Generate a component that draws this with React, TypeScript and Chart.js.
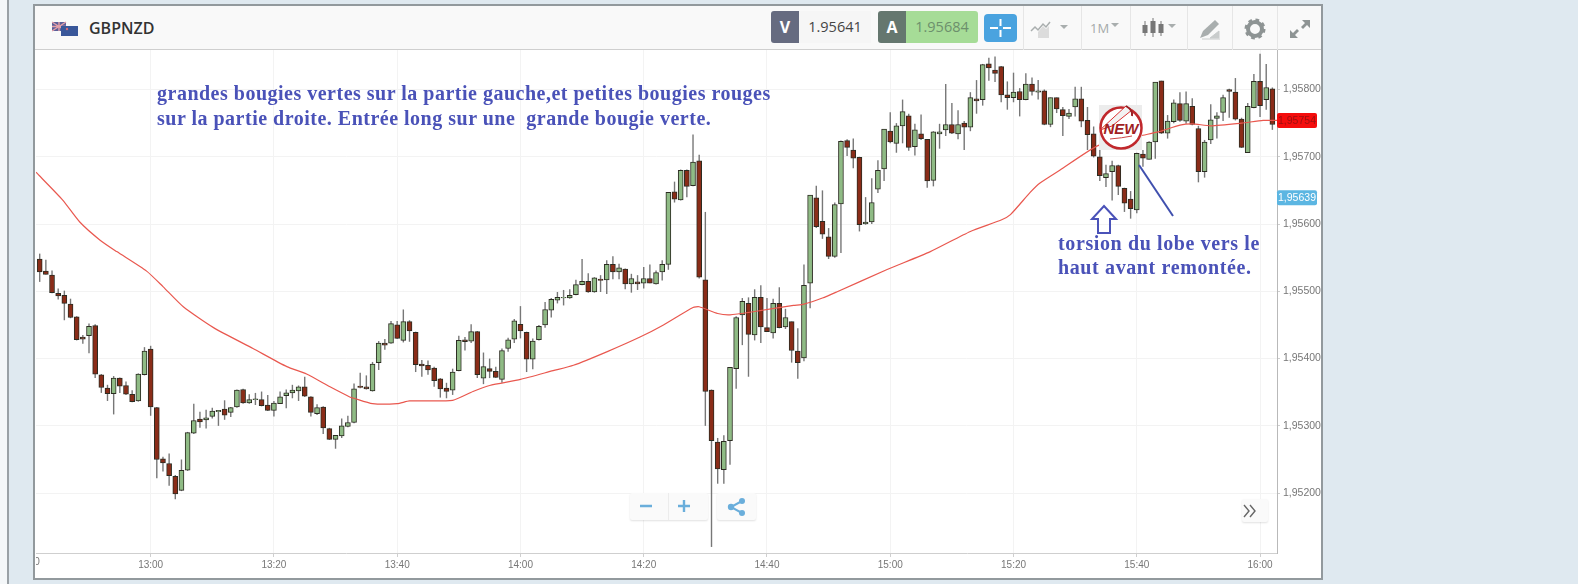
import React, { useEffect, useRef } from "react";
import { Chart, registerables } from "chart.js";

Chart.register(...registerables);

// Prices are written as points: 95800 reads 1,95800. Candles run one per minute; minute 0 is 13:00.
const firstMinute = -18;
const opens = [
95548,95530,95524,95497,95494,95481,95462,95432,95434,95449,95376,95356,95348,95371,95360,95347,95337,95376,
95414,95327,95251,95244,95225,95204,95234,95289,95310,95309,95314,95321,95325,95320,95328,95354,95334,95339,95339,95331,95323,95333,
95345,95349,95352,95358,95343,95318,95328,95296,95280,95285,95299,95305,
95359,95358,95352,95394,95423,95423,95450,95427,95455,95439,
95392,95390,95386,95370,95356,95353,95382,95428,95426,95440,
95371,95385,95381,95369,95415,95429,95451,95439,95399,95428,
95450,95472,95487,95490,95490,95495,95510,95515,95499,95518,
95517,95540,95529,95533,95511,95514,95512,95519,95511,95529,
95540,95648,95636,95680,95657,95694,95517,95353,95276,95235,
95278,95385,95465,95482,95435,95491,95446,95438,95482,95447,
95455,95411,95401,95512,95639,95604,95581,95552,95630,95724,
95710,95699,95600,95603,95652,95682,95738,95720,95746,95761,
95715,95734,95726,95665,95734,95740,95748,95734,95750,95744,
95786,95785,95838,95829,95834,95792,95788,95797,95785,95808,
95796,95798,95748,95788,95770,95760,95774,95786,95754,95734,
95700,95669,95678,95687,95653,95637,95621,95704,95696,95722,
95813,95735,95752,95779,95753,95775,95742,95678,95725,95757,
95766,95800,95796,95756,95706,95773,95812,95785,95801];
const highs = [
95556,95547,95531,95504,95501,95489,95463,95435,95452,95451,95377,95361,95374,95372,95366,95353,95378,95417,
95419,95328,95254,95259,95227,95250,95291,95333,95321,95324,95327,95323,95338,95328,95354,95355,95347,95349,95351,95346,95337,95351,
95354,95361,95360,95373,95344,95332,95329,95297,95286,95311,95315,95363,
95379,95375,95395,95426,95429,95456,95456,95473,95457,95440,
95398,95397,95388,95371,95364,95385,95434,95432,95451,95441,
95409,95400,95388,95415,95431,95459,95478,95440,95430,95450,
95484,95490,95499,95502,95503,95517,95548,95527,95521,95524,
95546,95552,95541,95534,95526,95524,95536,95540,95531,95546,
95647,95663,95681,95681,95733,95703,95618,95354,95282,95286,
95387,95463,95490,95491,95503,95509,95490,95489,95506,95474,
95455,95445,95540,95643,95657,95650,95594,95632,95724,95726,
95727,95700,95640,95668,95695,95741,95766,95750,95785,95764,
95749,95763,95726,95738,95749,95808,95780,95769,95753,95796,
95814,95838,95847,95849,95835,95812,95825,95802,95824,95818,
95814,95800,95788,95788,95774,95771,95804,95804,95774,95745,
95710,95688,95694,95688,95654,95649,95706,95710,95723,95811,
95813,95762,95785,95796,95797,95787,95746,95725,95778,95766,
95792,95801,95817,95758,95780,95823,95853,95838,95803];
const lows = [
95514,95525,95497,95488,95457,95460,95427,95422,95408,95371,95349,95337,95317,95349,95346,95335,95336,95375,
95315,95222,95232,95211,95191,95203,95233,95288,95297,95296,95311,95300,95309,95313,95327,95333,95333,95331,95329,95322,95314,95333,
95326,95341,95337,95343,95314,95316,95288,95279,95266,95282,95298,95304,
95356,95354,95351,95383,95413,95422,95429,95424,95425,95380,
95373,95376,95358,95342,95341,95346,95381,95412,95423,95371,
95362,95371,95371,95364,95410,95423,95430,95380,95384,95427,
95446,95461,95482,95479,95489,95494,95509,95498,95498,95499,
95496,95518,95518,95503,95498,95502,95504,95512,95510,95516,
95532,95632,95635,95640,95656,95519,95300,95120,95214,95214,
95242,95355,95420,95373,95427,95423,95440,95430,95445,95444,
95394,95370,95396,95475,95594,95578,95548,95550,95557,95701,
95683,95589,95599,95600,95646,95664,95720,95706,95720,95709,
95702,95725,95654,95656,95712,95731,95734,95726,95710,95738,
95764,95776,95813,95811,95781,95770,95781,95760,95784,95791,
95785,95747,95744,95765,95731,95756,95760,95744,95710,95699,
95664,95655,95635,95643,95618,95608,95616,95685,95696,95697,
95734,95727,95750,95752,95749,95747,95662,95669,95719,95727,
95753,95758,95754,95713,95706,95772,95759,95770,95740];
const closes = [
95529,95525,95498,95493,95482,95461,95428,95429,95448,95377,95357,95348,95371,95359,95347,95336,95377,95411,
95328,95250,95245,95226,95199,95234,95290,95308,95306,95312,95322,95323,95316,95327,95353,95334,95339,95340,95330,95323,95334,95343,
95349,95353,95358,95344,95320,95327,95297,95280,95286,95300,95305,95355,
95357,95355,95392,95423,95420,95452,95430,95455,95441,95391,
95389,95383,95367,95355,95351,95380,95427,95425,95440,95376,
95388,95381,95372,95412,95428,95456,95441,95399,95426,95448,
95473,95488,95491,95491,95494,95510,95515,95499,95520,95516,
95540,95529,95535,95511,95519,95511,95519,95512,95528,95540,
95647,95637,95680,95656,95692,95521,95351,95278,95236,95277,
95387,95461,95485,95436,95491,95447,95440,95482,95446,95461,
95412,95394,95509,95643,95596,95585,95552,95629,95723,95714,
95698,95599,95603,95632,95680,95741,95722,95746,95767,95714,
95740,95727,95664,95737,95737,95748,95735,95748,95744,95788,
95783,95837,95832,95824,95792,95788,95796,95785,95808,95797,
95798,95748,95788,95771,95761,95765,95786,95753,95733,95701,
95672,95675,95687,95656,95631,95623,95705,95698,95722,95811,
95735,95753,95780,95754,95779,95748,95678,95722,95755,95761,
95788,95797,95756,95714,95775,95812,95776,95803,95748];

// Red moving average, read at irregular minutes along its course
const maMinutes = [-18.6,-14.3,-11.5,-8.2,-5.5,-0.65,2,5.3,10.2,16.6,22.1,25.3,29.1,32.3,33,36,40,42,49,52.3,55,60,65.3,68.6,74,79.4,83.2,88,89,92,94,98,104.3,106,109,111.3,119.4,126.5,133,138,139.5,142.7,144.3,147.5,153.8,161,163.5,167,169,172,177,180.5,182.75];
const maValues = [95677,95636,95603,95576,95559,95530,95507,95477,95446,95415,95388,95377,95358,95343,95341,95333,95333,95337,95338,95351,95360,95369,95382,95390,95410,95432,95450,95476,95477,95467,95465,95470,95479,95481,95490,95499,95532,95559,95589,95606,95614,95647,95661,95680,95717,95732,95737,95747,95749,95746,95750,95754,95754];

const xTickMinutes = [0,20,40,60,80,100,120,140,160,180];
const xTickLabels = ["13:00","13:20","13:40","14:00","14:20","14:40","15:00","15:20","15:40","16:00"];
const clippedTick = { minute: -20, label: "12:40" };
const yTickValues = [95200,95300,95400,95500,95600,95700,95800];
const yTickLabels = ["1,95200","1,95300","1,95400","1,95500","1,95600","1,95700","1,95800"];
const lastPrice = { value: 95754, label: "1,95754" };
const bidPrice = { value: 95639, label: "1,95639" };

const GREEN = "#8fbb85";
const RED = "#8a2c18";
const BLUE = "#4a52b8";

const priceTags = {
  id: "priceTags",
  afterDraw(chart: any) {
    const { ctx, scales, chartArea } = chart;
    const y = scales.y;
    const x = scales.x;
    ctx.save();
    ctx.font = "10px 'Liberation Sans', Arial, sans-serif";
    ctx.beginPath();
    ctx.rect(chartArea.left, chartArea.bottom, chartArea.width, 26);
    ctx.clip();
    ctx.fillStyle = "#777";
    ctx.textAlign = "center";
    ctx.textBaseline = "middle";
    ctx.fillText(clippedTick.label, x.getPixelForValue(clippedTick.minute), chartArea.bottom + 9);
    ctx.restore();
    ctx.save();
    ctx.font = "10.5px 'Liberation Sans', Arial, sans-serif";
    ctx.textAlign = "center";
    ctx.textBaseline = "middle";
    const tag = (t: { value: number; label: string }, bg: string, fg: string) => {
      const py = y.getPixelForValue(t.value);
      ctx.fillStyle = bg;
      ctx.beginPath();
      ctx.roundRect(chartArea.right, py - 7.5, 40, 15, 2);
      ctx.fill();
      ctx.fillStyle = fg;
      ctx.fillText(t.label, chartArea.right + 20, py + 0.5);
    };
    tag(lastPrice, "#f40d0d", "#9c1010");
    tag(bidPrice, "#5cb6e2", "#ffffff");
    ctx.restore();
  },
};

const abs = (left: number, top: number, width: number, height: number, extra: any = {}) => ({
  position: "absolute" as const, left, top, width, height, ...extra,
});

function Note({ left, top, text, size, spacing }: any) {
  return (
    <div style={{ position: "absolute", left, top, whiteSpace: "pre", color: BLUE, fontFamily: "'Liberation Serif', serif", fontWeight: 700, fontSize: size, lineHeight: "24px", letterSpacing: spacing }}>
      {text}
    </div>
  );
}

function Header() {
  const seps = [1023, 1081, 1130, 1187, 1232, 1277];
  const icon = "#a9aeae";
  return (
    <div>
      <div style={abs(35, 6, 1286, 44, { background: "#f9f9f9", borderBottom: "1px solid #cfcfcf", boxSizing: "border-box" })} />
      {seps.map((s) => <div key={s} style={abs(s, 6, 1, 44, { background: "#e6e6e6" })} />)}
      <svg style={abs(52, 21, 26, 15, {})} viewBox="0 0 26 15">
        <rect x="0" y="1" width="14" height="9" fill="#5a5f9a" />
        <path d="M0 1l14 9M14 1L0 10M7 1v9M0 5.5h14" stroke="#e5a0a8" strokeWidth="1.4" />
        <rect x="9" y="5" width="17" height="10" fill="#39579a" />
        <circle cx="15" cy="8" r="1.2" fill="#d46a7a" />
      </svg>
      <div style={{ position: "absolute", left: 89, top: 17, fontFamily: "'Open Sans', sans-serif", fontWeight: 600, fontSize: 16, lineHeight: "22px", color: "#333" }}>GBPNZD</div>
      <div style={abs(771, 11, 28, 32, { background: "#666b80", borderRadius: "3px 0 0 3px", color: "#fff", fontFamily: "'Open Sans', sans-serif", fontWeight: 700, fontSize: 16, lineHeight: "32px", textAlign: "center" })}>V</div>
      <div style={abs(799, 11, 72, 32, { background: "#f6f6f6", color: "#444", fontFamily: "'Open Sans', sans-serif", fontSize: 14.5, lineHeight: "32px", textAlign: "center" })}>1.95641</div>
      <div style={abs(878, 11, 28, 32, { background: "#65776f", borderRadius: "3px 0 0 3px", color: "#fff", fontFamily: "'Open Sans', sans-serif", fontWeight: 700, fontSize: 16, lineHeight: "32px", textAlign: "center" })}>A</div>
      <div style={abs(906, 11, 72, 32, { background: "#a6dc97", borderRadius: "0 3px 3px 0", color: "#6c8f6c", fontFamily: "'Open Sans', sans-serif", fontSize: 14.5, lineHeight: "32px", textAlign: "center" })}>1.95684</div>
      <svg style={abs(984, 14, 33, 28, {})} viewBox="0 0 33 28">
        <rect width="33" height="28" rx="4" fill="#4aa3df" />
        <path d="M6 14h8M19 14h8M16.5 5v7M16.5 16v7" stroke="#fff" strokeWidth="2" />
      </svg>
      <svg style={abs(1030, 16, 42, 24, {})} viewBox="0 0 42 24">
        <path d="M1 15l4-4 3 3 5-6 3 3 4-5" stroke={icon} strokeWidth="1.5" fill="none" />
        <path d="M8 22v-6l5-6 3 3 3-3v12z" fill="#dcdcdc" />
        <path d="M30 9h8l-4 4z" fill={icon} />
      </svg>
      <div style={{ position: "absolute", left: 1090, top: 19, fontFamily: "'Open Sans', sans-serif", fontSize: 13, lineHeight: "18px", color: "#a5a9a9" }}>1M</div>
      <svg style={abs(1110, 22, 10, 8, {})} viewBox="0 0 10 8"><path d="M1 1h8l-4 4z" fill={icon} /></svg>
      <svg style={abs(1141, 16, 38, 24, {})} viewBox="0 0 38 24">
        <path d="M4 5v15M12 2v19M20 5v15" stroke="#777" strokeWidth="1" />
        <rect x="1.5" y="9" width="5" height="8" fill="#777" />
        <rect x="9.5" y="5" width="5" height="12" fill="#777" />
        <rect x="17.5" y="8" width="5" height="9" fill="#777" />
        <path d="M27 8h8l-4 4z" fill={icon} />
      </svg>
      <svg style={abs(1199, 18, 22, 22, {})} viewBox="0 0 22 22">
        <path d="M1 20l3-7L16 2l4 4L9 17z" fill="#a9aeae" />
        <path d="M11 20l9-7v7zM3 21h18" fill="#c9cccc" stroke="#c9cccc" />
      </svg>
      <svg style={abs(1244, 18, 22, 22, {})} viewBox="0 0 22 22">
        <circle cx="11" cy="11" r="7" fill="none" stroke="#8e9494" strokeWidth="4" />
        <circle cx="11" cy="11" r="9" fill="none" stroke="#8e9494" strokeWidth="3" strokeDasharray="3.6 3.5" />
      </svg>
      <svg style={abs(1288, 18, 24, 22, {})} viewBox="0 0 24 22">
        <path d="M14 2h8v8l-3-3-4 4-2-2 4-4zM2 20v-8l3 3 4-4 2 2-4 4 3 3z" fill="#8e9494" />
      </svg>
    </div>
  );
}

function Overlays() {
  const btn = { background: "#fafafa", boxShadow: "0 1px 2px rgba(0,0,0,0.12)", borderRadius: 2 };
  return (
    <div>
      <Note left={157} top={81} size={20} spacing={0.5} text="grandes bougies vertes sur la partie gauche,et petites bougies rouges" />
      <Note left={157} top={106} size={20} spacing={0.5} text="sur la partie droite. Entrée long sur une  grande bougie verte." />
      <Note left={1058} top={231} size={20} spacing={0.62} text="torsion du lobe vers le" />
      <Note left={1058} top={255} size={20} spacing={0.62} text="haut avant remontée." />
      <svg style={abs(0, 0, 1578, 584, { pointerEvents: "none" })} viewBox="0 0 1578 584">
        <path d="M1104 206l12 13h-6v14h-12v-14h-6z" fill="none" stroke={BLUE} strokeWidth="2" />
        <path d="M1139 165L1173 216" stroke="#3f4fae" strokeWidth="2" />
        <rect x="1099" y="105" width="43" height="45" fill="#ececec" />
        <circle cx="1121" cy="128" r="20.5" fill="#fff" stroke="#c0282c" strokeWidth="2.5" />
        <path d="M1100 130L1126 106 1132 110 1112 126z" fill="#f2f2f2" stroke="#d33" strokeWidth="1" />
        <path d="M1126 106c5 3 7 6 6 10" fill="none" stroke="#9a2024" strokeWidth="2" />
        <text x="1121" y="134" textAnchor="middle" fontFamily="'Liberation Sans', sans-serif" fontWeight="700" fontStyle="italic" fontSize="15" fill="#a01f24">NEW</text>
        <path d="M1110 139q12 -1 22 -3" stroke="#c44" strokeWidth="1" fill="none" />
      </svg>
      <div style={abs(630, 493, 78, 27, btn)} />
      <div style={abs(668, 493, 1, 27, { background: "#ececec" })} />
      <div style={abs(717, 493, 39, 27, btn)} />
      <div style={abs(1242, 499, 26, 23, btn)} />
      <svg style={abs(0, 0, 1578, 584, { pointerEvents: "none" })} viewBox="0 0 1578 584">
        <path d="M640 506h12M678 506h12M684 500v12" stroke="#6aaedb" strokeWidth="2.4" />
        <path d="M742 501l-11 6 11 6" stroke="#6aaedb" strokeWidth="2" fill="none" />
        <circle cx="731" cy="507" r="3.2" fill="#6aaedb" />
        <circle cx="742" cy="501" r="3" fill="#6aaedb" />
        <circle cx="742" cy="513" r="3" fill="#6aaedb" />
        <path d="M1250 505l5 6-5 6M1244 505l5 6-5 6" stroke="#666" strokeWidth="1.4" fill="none" />
      </svg>
    </div>
  );
}

export default function App() {
  const ref = useRef<HTMLCanvasElement>(null);
  useEffect(() => {
    const minutes = opens.map((_, i) => firstMinute + i);
    const chart = new Chart(ref.current as HTMLCanvasElement, {
      type: "bar",
      data: {
        datasets: [
          {
            type: "bar",
            label: "wick",
            data: minutes.map((m, i) => ({ x: m, y: [lows[i], highs[i]] })) as any,
            backgroundColor: "#777777",
            barThickness: 1.4,
            grouped: false,
            inflateAmount: 0,
            order: 3,
          } as any,
          {
            type: "bar",
            label: "body",
            data: minutes.map((m, i) => ({ x: m, y: [opens[i], closes[i]] })) as any,
            backgroundColor: opens.map((o, i) => (closes[i] >= o ? GREEN : RED)),
            borderColor: "#2c2c22",
            borderWidth: 1,
            borderSkipped: false,
            barThickness: 5,
            grouped: false,
            order: 2,
          } as any,
          {
            type: "line",
            label: "moving average",
            data: maMinutes.map((m, i) => ({ x: m, y: maValues[i] })),
            borderColor: "#e9584f",
            borderWidth: 1.2,
            pointRadius: 0,
            tension: 0.2,
            order: 1,
          } as any,
        ],
      },
      options: {
        responsive: false,
        animation: false,
        layout: { padding: 0 },
        plugins: { legend: { display: false }, tooltip: { enabled: false } },
        scales: {
          x: {
            type: "linear",
            offset: false,
            min: -18.6,
            max: 182.75,
            afterBuildTicks: (s: any) => { s.ticks = xTickMinutes.map((value) => ({ value })); },
            afterFit: (s: any) => { s.height = 26; s.paddingLeft = 0; s.paddingRight = 0; },
            ticks: {
              autoSkip: false,
              maxRotation: 0,
              color: "#777",
              font: { family: "'Liberation Sans', Arial, sans-serif", size: 10 },
              padding: 2,
              callback: (v: any) => xTickLabels[xTickMinutes.indexOf(v)] ?? "",
            },
            border: { color: "#cfcfcf" },
            grid: { offset: false, color: "#f3f3f3", tickLength: 4, tickColor: "#cfcfcf" },
          },
          y: {
            type: "linear",
            position: "right",
            min: 95111,
            max: 95858.7,
            afterBuildTicks: (s: any) => { s.ticks = yTickValues.map((value) => ({ value })); },
            afterFit: (s: any) => { s.width = 45; s.paddingTop = 0; s.paddingBottom = 0; },
            ticks: {
              autoSkip: false,
              color: "#777",
              font: { family: "'Liberation Sans', Arial, sans-serif", size: 10.5 },
              padding: 3,
              callback: (v: any) => yTickLabels[yTickValues.indexOf(v)] ?? "",
            },
            border: { color: "#b9b9b9" },
            grid: { color: "#f3f3f3", tickLength: 3, tickColor: "#cfcfcf" },
          },
        },
      },
      plugins: [priceTags],
    } as any);
    return () => chart.destroy();
  }, []);

  return (
    <div style={abs(0, 0, 1578, 584, { position: "fixed", background: "#dfe9f0", overflow: "hidden" })}>
      <div style={abs(0, 0, 7, 584, { background: "#f4f7f9", borderRight: "2px solid #9aa1a6" })} />
      <div style={abs(33, 4, 1290, 576, { background: "#fff", border: "2px solid #92999d", boxSizing: "border-box" })} />
      <Header />
      <canvas ref={ref} width={1286} height={529} style={abs(36, 50, 1286, 529, { display: "block" })} />
      <Overlays />
    </div>
  );
}
